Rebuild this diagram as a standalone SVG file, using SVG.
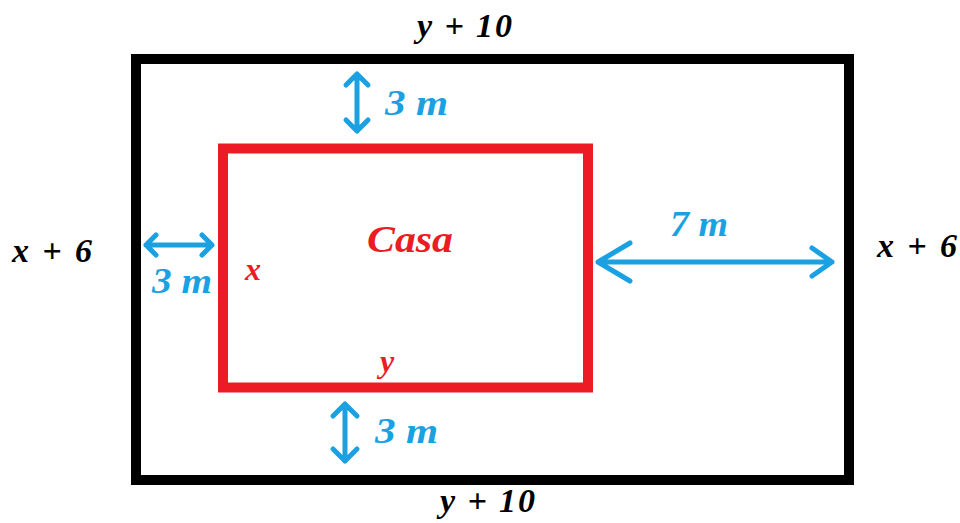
<svg xmlns="http://www.w3.org/2000/svg" width="960" height="523" viewBox="0 0 960 523">
<style>
.t{font-family:"Liberation Serif","Times New Roman",serif;font-weight:bold;font-style:italic}
.k{fill:#000;font-size:34px}
.r{fill:#ed1c24}
.b{fill:#1ba1e2;font-size:36px}
.a{stroke:#1ba1e2;stroke-width:5;fill:none;stroke-linecap:round;stroke-linejoin:round}
</style>
<rect width="960" height="523" fill="#fff"/>
<g id="terreno">
<rect x="136" y="59" width="713" height="421" fill="none" stroke="#000" stroke-width="10"/>
<text class="t k" x="417" y="37" textLength="95" lengthAdjust="spacing">y + 10</text>
<text class="t k" x="440" y="512" textLength="95" lengthAdjust="spacing">y + 10</text>
<text class="t k" x="12" y="262" textLength="80" lengthAdjust="spacing">x + 6</text>
<text class="t k" x="877" y="257" textLength="80" lengthAdjust="spacing">x + 6</text>
</g>
<g id="casa">
<rect x="223" y="148.5" width="365" height="239" fill="none" stroke="#ed1c24" stroke-width="10"/>
<text class="t r" x="367" y="252" font-size="38" textLength="86" lengthAdjust="spacingAndGlyphs">Casa</text>
<text class="t r" x="245" y="280" font-size="32">x</text>
<text class="t r" x="380" y="372" font-size="32">y</text>
</g>
<g id="connectors">
<path class="a" d="M357 74V131M346 85L357 74L368 85M346 120L357 131L368 120"/>
<path class="a" d="M146 245H212M156 235L146 245L156 255M202 235L212 245L202 255"/>
<path class="a" d="M598 262H832M630 243L598 262L630 281M812 248L832 262L812 276"/>
<path class="a" d="M345 404V461M333 416L345 404L357 416M333 449L345 461L357 449"/>
</g>
<g id="labels">
<text class="t b" x="385" y="115" textLength="63" lengthAdjust="spacingAndGlyphs">3 m</text>
<text class="t b" x="152" y="293" textLength="60" lengthAdjust="spacingAndGlyphs">3 m</text>
<text class="t b" x="375" y="443" textLength="63" lengthAdjust="spacingAndGlyphs">3 m</text>
<text class="t b" x="670" y="236" textLength="58" lengthAdjust="spacingAndGlyphs">7 m</text>
</g>
</svg>
